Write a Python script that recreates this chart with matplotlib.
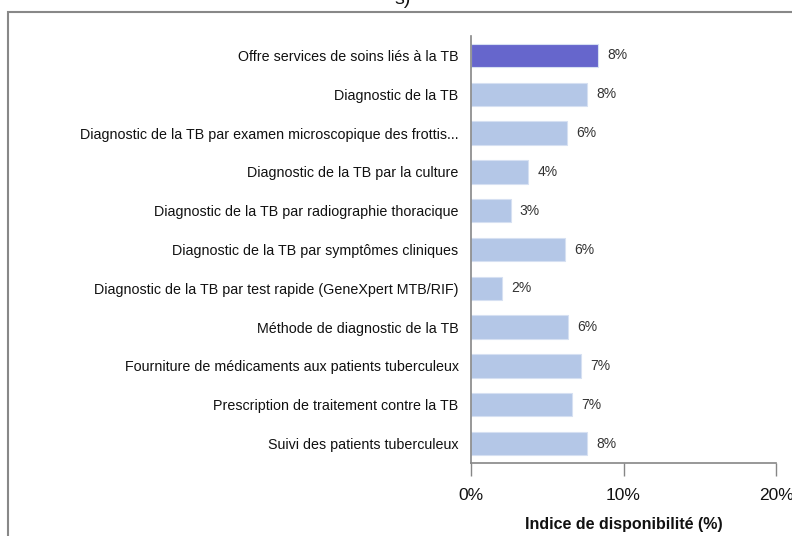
import matplotlib
matplotlib.use("Agg")
import matplotlib.pyplot as plt
from matplotlib.patches import Rectangle

categories = [
    "Offre services de soins liés à la TB",
    "Diagnostic de la TB",
    "Diagnostic de la TB par examen microscopique des frottis...",
    "Diagnostic de la TB par la culture",
    "Diagnostic de la TB par radiographie thoracique",
    "Diagnostic de la TB par symptômes cliniques",
    "Diagnostic de la TB par test rapide (GeneXpert MTB/RIF)",
    "Méthode de diagnostic de la TB",
    "Fourniture de médicaments aux patients tuberculeux",
    "Prescription de traitement contre la TB",
    "Suivi des patients tuberculeux",
]
values = [8.33, 7.6, 6.3, 3.74, 2.6, 6.16, 2.03, 6.36, 7.2, 6.6, 7.6]
value_labels = ["8%", "8%", "6%", "4%", "3%", "6%", "2%", "6%", "7%", "7%", "8%"]
xticks = [0, 10, 20]
xtick_labels = ["0%", "10%", "20%"]
xlabel = "Indice de disponibilité (%)"

plt.rcParams['font.family'] = ['Liberation Sans Narrow', 'Liberation Sans', 'DejaVu Sans']

fig = plt.figure(figsize=(7.92, 5.36), dpi=100)
ax = fig.add_axes([0.5947, 0.1362, 0.3851, 0.7966])

colors = ["#6666CC"] + ["#B4C7E7"] * (len(values) - 1)
ypos = list(range(len(values)))
ax.barh(ypos, values, height=0.6, color=colors, edgecolor="#D6E0F2", linewidth=0.8)
for y, v, lab in zip(ypos, values, value_labels):
    ax.text(v + 0.6, y, lab, va="center", ha="left", fontsize=10, color="#333333")

ax.set_yticks(ypos)
ax.set_yticklabels(categories, fontsize=10.3, color="#111111")
ax.set_ylim(len(values) - 0.5, -0.5)
ax.set_xlim(0, 20)
ax.set_xticks(xticks)
ax.set_xticklabels(xtick_labels, fontsize=12.5, color="#111111")
ax.tick_params(axis="y", length=0, pad=9)
ax.tick_params(axis="x", length=9, width=1, color="#868686", pad=9, direction="out")
ax.set_xlabel(xlabel, fontsize=11.5, fontweight="bold", labelpad=10, color="#111111")
for s in ["top", "right"]:
    ax.spines[s].set_visible(False)
for s in ["left", "bottom"]:
    ax.spines[s].set_color("#868686")
    ax.spines[s].set_linewidth(1.2)

fig.patches.append(Rectangle((8 / 792, -0.1), 1.2, 1.1 - 12 / 536, transform=fig.transFigure,
                             fill=False, edgecolor="#888888", linewidth=1.5, clip_on=False))
fig.text(0.508, 1.0, "s)", ha="center", va="center", fontsize=14, color="#111111")

fig.savefig("out.png", dpi=100)
